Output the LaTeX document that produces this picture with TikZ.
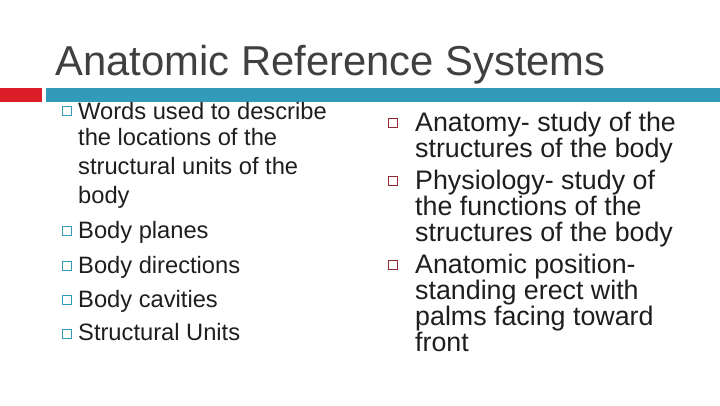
\documentclass[tikz,border=0pt]{standalone}
\usepackage{fontspec}
\setmainfont{Liberation Sans}
\definecolor{teal1}{RGB}{49,155,185}
\definecolor{red1}{RGB}{220,30,40}
\definecolor{dred}{RGB}{150,40,50}
\definecolor{txt}{RGB}{30,30,30}
\begin{document}
\begin{tikzpicture}[x=1pt,y=-1pt,
 lt/.style={anchor=base west,inner sep=0,font=\fontsize{23.7}{23.7}\selectfont,text=txt},
 rt/.style={anchor=base west,inner sep=0,font=\fontsize{26.8}{26.8}\selectfont,text=txt},
 lb/.style={draw=teal1,line width=0.6pt,minimum size=9pt,inner sep=0},
 rb/.style={draw=dred,line width=1.4pt,minimum size=9pt,inner sep=0}]
\useasboundingbox (0,0) rectangle (720,405);
\node[anchor=base west,inner sep=0,font=\fontsize{41.8}{41.8}\selectfont,text=black!75] (title) at (55,75) {Anatomic Reference Systems};
\fill[red1] (0,88) rectangle (42,102);
\fill[teal1] (46,88) rectangle (720,102);
% left
\foreach \n/\y in {b1/111,b2/231,b3/266,b4/300,b5/334} \node[lb] (\n) at (67,\y) {};
\node[lt] (l1) at (78,119) {Words used to describe};
\node[lt] (l2) at (78,145) {the locations of the};
\node[lt] (l3) at (78,174) {structural units of the};
\node[lt] (l4) at (78,203) {body};
\node[lt] (l5) at (78,238) {Body planes};
\node[lt] (l6) at (78,273) {Body directions};
\node[lt] (l7) at (78,307) {Body cavities};
\node[lt] (l8) at (78,340) {Structural Units};
% right
\foreach \n/\y in {r1/123,r2/181,r3/265} \node[rb] (\n) at (393,\y) {};
\node[rt] (t1) at (415,131) {Anatomy- study of the};
\node[rt] (t2) at (415,157) {structures of the body};
\node[rt] (t3) at (415,189) {Physiology- study of};
\node[rt] (t4) at (415,215) {the functions of the};
\node[rt] (t5) at (415,241) {structures of the body};
\node[rt] (t6) at (415,273) {Anatomic position-};
\node[rt] (t7) at (415,299) {standing erect with};
\node[rt] (t8) at (415,325) {palms facing toward};
\node[rt] (t9) at (415,351) {front};
\end{tikzpicture}
\end{document}
